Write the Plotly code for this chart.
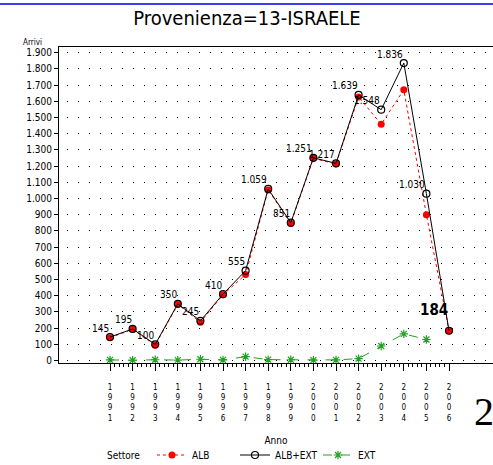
import plotly.graph_objects as go

years = list(range(1991, 2007))
alb_ext = [145, 195, 100, 350, 245, 410, 555, 1059, 851, 1251, 1217, 1639, 1548, 1836, 1030, 184]
alb = [141, 193, 95, 347, 237, 406, 531, 1053, 846, 1248, 1213, 1627, 1458, 1671, 900, 184]
ext = [4, 2, 5, 3, 8, 4, 24, 6, 5, 3, 4, 12, 90, 165, 130, None]
year_labels = ["<br>".join(str(y)) for y in years]
y_ticks = list(range(0, 2000, 100))
y_tick_labels = [f"{v:,}".replace(",", ".") for v in y_ticks]

COND = "DejaVu Sans Condensed, Liberation Sans Narrow, sans-serif"

fig = go.Figure()
fig.add_trace(go.Scatter(
    x=years, y=alb, name="ALB", mode="lines+markers",
    line=dict(color="#ff0000", width=1, dash="dot"),
    marker=dict(symbol="circle", size=7, color="#ff0000"),
))
fig.add_trace(go.Scatter(
    x=years, y=alb_ext, name="ALB+EXT", mode="lines+markers",
    line=dict(color="#000000", width=1),
    marker=dict(symbol="circle-open", size=7, color="#000000", line=dict(width=1.2)),
))
fig.add_trace(go.Scatter(
    x=years, y=ext, name="EXT", mode="lines+markers",
    line=dict(color="#22a022", width=1, dash="dash"),
    marker=dict(symbol="asterisk-open", size=7, color="#22a022", line=dict(width=1.2, color="#22a022")),
))

def fmt(v):
    return f"{v:,}".replace(",", ".")

annotations = []
for yr, v in zip(years[:-1], alb_ext[:-1]):
    annotations.append(dict(
        x=yr, y=v, text=fmt(v), showarrow=False, xanchor="right", yanchor="middle",
        yshift=9, xshift=1, font=dict(family=COND, size=10, color="#000000"),
    ))
annotations.append(dict(
    x=years[-1], y=alb_ext[-1], text=fmt(alb_ext[-1]), showarrow=False,
    xanchor="right", yanchor="middle", yshift=21, xshift=1,
    font=dict(family=COND, size=15, color="#000000", weight="bold"),
))
annotations.append(dict(
    xref="paper", yref="paper", x=0, y=1, text="Arrivi", showarrow=False,
    xanchor="right", yanchor="middle", xshift=-15, yshift=5,
    font=dict(family=COND, size=8, color="#000000"),
))
annotations.append(dict(
    xref="paper", yref="paper", x=(105 - 59) / 434, y=(363 - 455) / 316, text="Settore",
    showarrow=False, xanchor="left", yanchor="middle",
    font=dict(family=COND, size=10, color="#000000"),
))
annotations.append(dict(
    xref="paper", yref="paper", x=0.951, y=(363 - 411) / 316, text="2", showarrow=False,
    xanchor="left", yanchor="middle",
    font=dict(family="Liberation Serif, DejaVu Serif, serif", size=40, color="#000000"),
))

fig.update_layout(
    width=493, height=465,
    margin=dict(l=59, r=0, t=47, b=102, autoexpand=False),
    paper_bgcolor="white", plot_bgcolor="white",
    title=dict(text="Provenienza=13-ISRAELE", x=0.501, xref="container", xanchor="center",
               y=0.961, yref="container", yanchor="middle",
               font=dict(family=COND, size=20, color="#000000")),
    xaxis=dict(
        range=[1988.743, 2007.947], tickmode="array", tickvals=years, ticktext=year_labels,
        ticks="outside", ticklen=7, tickcolor="#000000", showline=True, linecolor="#000000",
        linewidth=1, mirror=True, showgrid=False, zeroline=False, ticklabelstandoff=9,
        automargin=False,
        tickfont=dict(family=COND, size=8, color="#000000"),
        minor=dict(tickmode="array", tickvals=[1991 + i * 0.2 for i in range(76)],
                   ticks="outside", ticklen=3, tickcolor="#000000", showgrid=False),
        title=dict(text="Anno", font=dict(family=COND, size=10, color="#000000"), standoff=15),
    ),
    yaxis=dict(
        range=[-15, 1935], tickmode="array", tickvals=y_ticks, ticktext=y_tick_labels,
        ticks="outside", ticklen=4, tickcolor="#000000", showline=True, linecolor="#000000",
        linewidth=1, showgrid=True, gridcolor="#000000", gridwidth=1, automargin=False,
        griddash="0px,8px,1px,2px", zeroline=False,
        tickfont=dict(family=COND, size=10, color="#000000"),
    ),
    legend=dict(
        orientation="h", x=(152 - 59) / 434, xanchor="left", y=(363 - 455) / 316, yanchor="middle",
        font=dict(family=COND, size=10, color="#000000"),
        itemwidth=30, entrywidth=38, tracegroupgap=0, bgcolor="rgba(0,0,0,0)",
    ),
    showlegend=True,
    annotations=annotations,
    shapes=[dict(type="line", xref="paper", yref="paper", x0=-59 / 434, x1=1,
                 y0=1 + 43 / 316, y1=1 + 43 / 316, line=dict(color="#3c3cf5", width=2))],
)

fig.write_html("out.html", config={"displayModeBar": False},
               post_script="document.body.style.margin='0px';")
